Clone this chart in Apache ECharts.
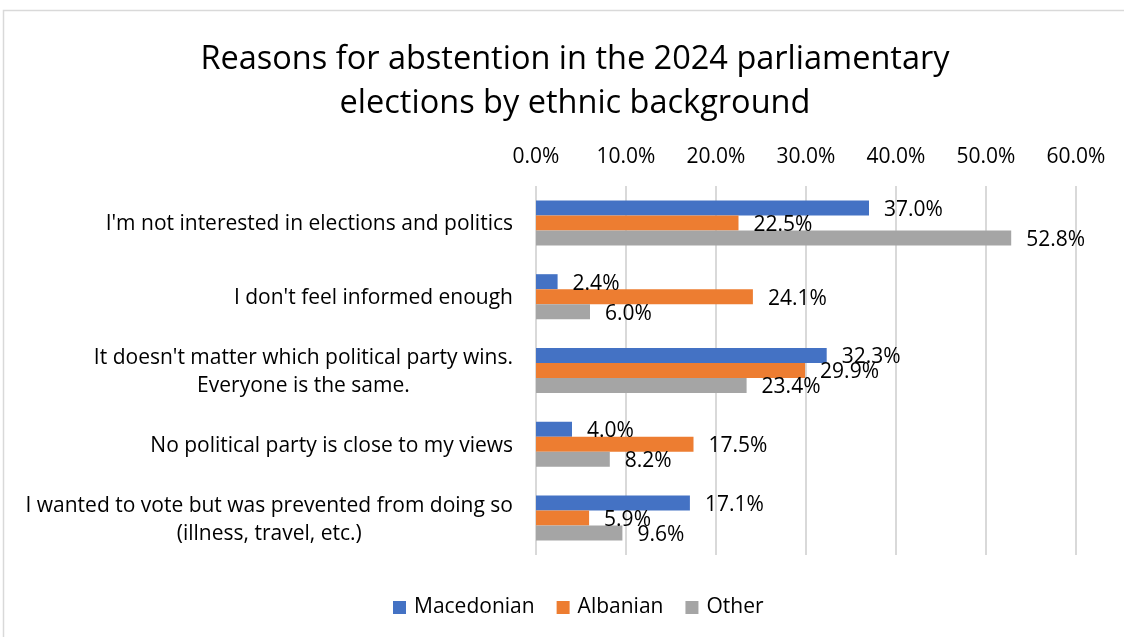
<!DOCTYPE html>
<html>
<head>
<meta charset="utf-8">
<script src="https://cdn.jsdelivr.net/npm/echarts@6/dist/echarts.min.js"></script>
<style>
  html, body { margin: 0; padding: 0; background: #fff; }
  #chart { width: 1124px; height: 637px; }
</style>
</head>
<body>
<div id="chart"></div>
<script>
// Survey reasons for not voting, split by respondents' ethnic background (percent)
const categories = [
  "I'm not interested in elections and politics",
  "I don't feel informed enough",
  "It doesn't matter which political party wins.\nEveryone is the same.",
  "No political party is close to my views",
  "I wanted to vote but was prevented from doing so\n(illness, travel, etc.)"
];
const macedonian = [37.0, 2.4, 32.3, 4.0, 17.1];
const albanian   = [22.5, 24.1, 29.9, 17.5, 5.9];
const other      = [52.8, 6.0, 23.4, 8.2, 9.6];
const seriesNames = ['Macedonian', 'Albanian', 'Other'];
const seriesColors = ['#4472C4', '#ED7D31', '#A5A5A5'];

const FONT = '"Open Sans", "Noto Sans", sans-serif';
const TEXT_SIZE = 21;

const chart = echarts.init(document.getElementById('chart'));

function barSeries(name, data, color) {
  return {
    name: name,
    type: 'bar',
    data: data,
    barGap: '0%',
    barCategoryGap: '39%',
    itemStyle: { color: color },
    label: {
      show: true,
      position: 'right',
      distance: 15,
      offset: [0, 2],
      color: '#000',
      fontFamily: FONT,
      fontSize: TEXT_SIZE,
      formatter: p => p.value.toFixed(1) + '%'
    }
  };
}

chart.setOption({
  animation: false,
  backgroundColor: '#fff',
  graphic: [{
    type: 'rect',
    shape: { x: 3.5, y: 10.5, width: 1140, height: 650 },
    style: { fill: 'none', stroke: '#D9D9D9', lineWidth: 1.5 },
    silent: true
  }],
  title: {
    text: 'Reasons for abstention in the 2024 parliamentary\nelections by ethnic background',
    left: 570,
    top: 33,
    textAlign: 'center',
    textStyle: {
      fontFamily: FONT,
      fontSize: 32.5,
      fontWeight: 'normal',
      color: '#000',
      lineHeight: 44
    }
  },
  legend: {
    data: seriesNames,
    top: 592,
    left: 388,
    icon: 'rect',
    itemWidth: 13,
    itemHeight: 13,
    itemGap: 22,
    textStyle: { fontFamily: FONT, fontSize: TEXT_SIZE, color: '#000', padding: [0, 0, 0, 3] }
  },
  grid: { left: 536, right: 48, top: 186, bottom: 82, containLabel: false },
  xAxis: {
    type: 'value',
    position: 'top',
    min: 0,
    max: 60,
    interval: 10,
    axisLine: { show: false },
    axisTick: { show: false },
    splitLine: { show: true, lineStyle: { color: '#D9D9D9', width: 2 } },
    axisLabel: {
      margin: 18,
      color: '#000',
      fontFamily: FONT,
      fontSize: TEXT_SIZE,
      formatter: v => v.toFixed(1) + '%'
    }
  },
  yAxis: {
    type: 'category',
    inverse: true,
    data: categories,
    axisLine: { show: false },
    axisTick: { show: false },
    axisLabel: {
      margin: 23,
      color: '#000',
      fontFamily: FONT,
      fontSize: TEXT_SIZE,
      lineHeight: 28,
      padding: [3, 0, 0, 0],
      formatter: v => v.split('\n').map(s => '{c|' + s + '}').join('\n'),
      rich: {
        c: { align: 'center', fontFamily: FONT, fontSize: TEXT_SIZE, color: '#000', lineHeight: 28 }
      }
    }
  },
  series: [
    barSeries(seriesNames[0], macedonian, seriesColors[0]),
    barSeries(seriesNames[1], albanian, seriesColors[1]),
    barSeries(seriesNames[2], other, seriesColors[2])
  ]
});
</script>
</body>
</html>
